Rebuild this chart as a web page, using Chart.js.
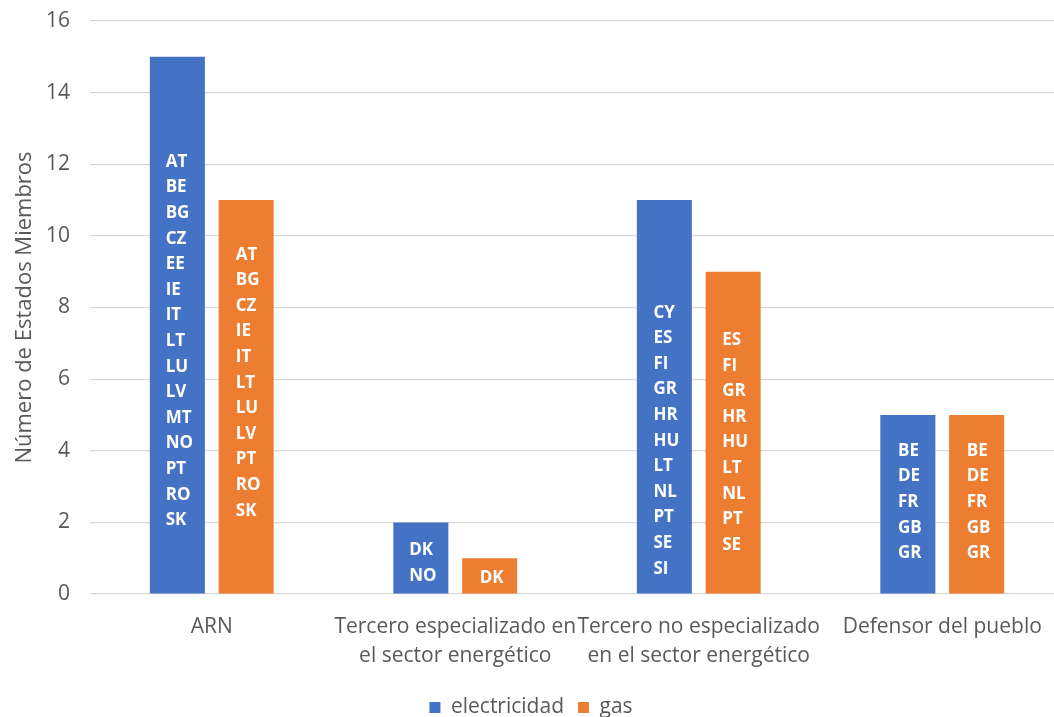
<!DOCTYPE html>
<html>
<head>
<meta charset="utf-8">
<script src="https://cdn.jsdelivr.net/npm/chart.js@4.4.0/dist/chart.umd.min.js"></script>
<style>
  html, body { margin: 0; padding: 0; background: #ffffff; overflow: hidden; }
  #wrap { width: 1064px; height: 717px; position: relative; }
</style>
</head>
<body>
<div id="wrap"><canvas id="c"></canvas></div>
<script>
// ---- Data ----
const categories = [
  "ARN",
  ["Tercero especializado en", "el sector energético"],
  ["Tercero no especializado", "en el sector energético"],
  "Defensor del pueblo"
];
const seriesNames = ["electricidad", "gas"];
const electricidad = [15, 2, 11, 5];
const gas = [11, 1, 9, 5];
const electricidadPaises = [
  ["AT","BE","BG","CZ","EE","IE","IT","LT","LU","LV","MT","NO","PT","RO","SK"],
  ["DK","NO"],
  ["CY","ES","FI","GR","HR","HU","LT","NL","PT","SE","SI"],
  ["BE","DE","FR","GB","GR"]
];
const gasPaises = [
  ["AT","BG","CZ","IE","IT","LT","LU","LV","PT","RO","SK"],
  ["DK"],
  ["ES","FI","GR","HR","HU","LT","NL","PT","SE"],
  ["BE","DE","FR","GB","GR"]
];
const yTicks = { min: 0, max: 16, step: 2 };

// ---- Styles ----
const colors = ["#4472C4", "#ED7D31"];
const labelShift = [[16, 5, 44, -2], [-14, 2, 10, -2]]; // px shift of in-bar label blocks
const FONT = "'Open Sans', 'DejaVu Sans', sans-serif";
const GREY = "#595959";

const barLabels = {
  id: "barLabels",
  afterDatasetsDraw(chart) {
    const ctx = chart.ctx;
    const lists = [electricidadPaises, gasPaises];
    const lh = 25.6;
    ctx.save();
    ctx.font = "700 17px " + FONT;
    ctx.fillStyle = "#ffffff";
    ctx.textBaseline = "middle";
    ctx.textAlign = "left";
    chart.data.datasets.forEach((ds, di) => {
      const meta = chart.getDatasetMeta(di);
      meta.data.forEach((bar, i) => {
        const lines = lists[di][i];
        const maxW = Math.max(...lines.map(s => ctx.measureText(s).width));
        const cx = bar.x;
        const cy = (bar.y + bar.base) / 2 + labelShift[di][i];
        const y0 = cy - (lines.length - 1) / 2 * lh;
        lines.forEach((s, k) => ctx.fillText(s, cx - maxW / 2 + 2, y0 + k * lh));
      });
    });
    ctx.restore();
  }
};

new Chart(document.getElementById("c"), {
  type: "bar",
  data: {
    labels: categories,
    datasets: [
      { label: seriesNames[0], data: electricidad, backgroundColor: colors[0] },
      { label: seriesNames[1], data: gas, backgroundColor: colors[1] }
    ]
  },
  options: {
    responsive: true,
    maintainAspectRatio: false,
    animation: false,
    devicePixelRatio: 1,
    layout: { padding: { top: 21, right: 0, left: -2, bottom: -11 } },
    datasets: { bar: { barPercentage: 0.8, categoryPercentage: 0.565 } },
    plugins: {
      tooltip: { enabled: false },
      legend: {
        position: "bottom",
        labels: {
          boxWidth: 11, boxHeight: 11, padding: 14,
          color: GREY, font: { family: FONT, size: 21 }
        }
      }
    },
    scales: {
      x: {
        grid: { display: false },
        border: { display: false },
        ticks: {
          color: GREY, font: { family: FONT, size: 21, lineHeight: 1.38 },
          padding: 11, maxRotation: 0, autoSkip: false
        },
        afterFit(s) { s.height = 89; }
      },
      y: {
        min: yTicks.min, max: yTicks.max,
        grid: { color: "#d9d9d9", lineWidth: 1.2, drawTicks: false },
        border: { display: false },
        ticks: {
          stepSize: yTicks.step, color: GREY,
          font: { family: FONT, size: 21 }, padding: 20
        },
        title: {
          display: true, text: "Número de Estados Miembros",
          color: GREY, font: { family: FONT, size: 22 },
          padding: { top: 14, bottom: 0 }
        },
        afterFit(s) { s.width = 92; s.paddingTop = 5; s.paddingBottom = 5; }
      }
    }
  },
  plugins: [barLabels]
});
</script>
</body>
</html>
